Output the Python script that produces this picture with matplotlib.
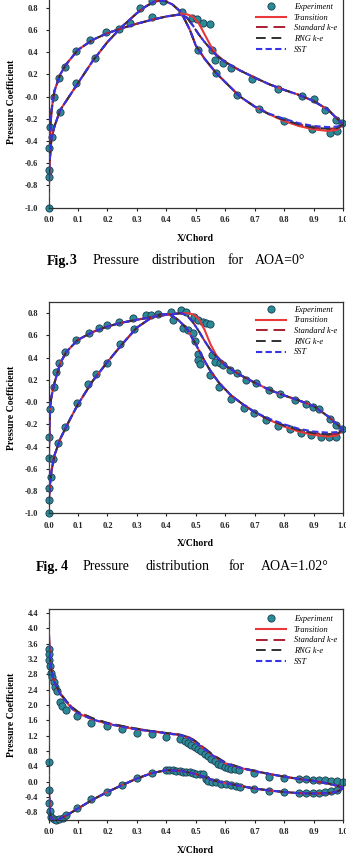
import matplotlib
matplotlib.use('Agg')
import matplotlib.pyplot as plt
import numpy as np

plt.rcParams['font.family'] = ['Liberation Serif', 'DejaVu Serif']

models = ['Transition', 'Standard k-e', 'RNG k-e', 'SST']

# ---- Fig. 3, AOA = 0 ----
ex3_x = [0.0, 0.001, 0.002, 0.003, 0.006, 0.011, 0.018, 0.036, 0.04, 0.055,
         0.093, 0.093, 0.14, 0.157, 0.195, 0.24, 0.276, 0.31, 0.35, 0.35,
         0.39, 0.455, 0.486, 0.503, 0.506, 0.526, 0.548, 0.556, 0.566, 0.57,
         0.593, 0.62, 0.64, 0.69, 0.714, 0.78, 0.80, 0.861, 0.90, 0.896,
         0.94, 0.957, 0.977, 0.98, 0.998]
ex3_y = [-1.0, -0.72, -0.66, -0.46, -0.27, -0.36, 0.0, 0.17, -0.14, 0.27,
         0.41, 0.12, 0.51, 0.35, 0.585, 0.605, 0.66, 0.80, 0.715, 0.86,
         0.86, 0.76, 0.71, 0.70, 0.42, 0.66, 0.655, 0.42, 0.33, 0.21,
         0.30, 0.26, 0.01, 0.16, -0.115, 0.07, -0.22, 0.005, -0.02, -0.29,
         -0.12, -0.325, -0.21, -0.31, -0.24]

f3a_x = [0, 0.002, 0.005, 0.01, 0.02, 0.04, 0.06, 0.1, 0.15, 0.2, 0.25, 0.3, 0.35, 0.4, 0.45,
         0.47, 0.49, 0.51, 0.53, 0.55, 0.57, 0.6, 0.65, 0.7, 0.75, 0.8, 0.85, 0.9, 0.95, 0.98, 1.0]
f3a_tr = [-1.0, -0.6, -0.35, -0.13, 0.05, 0.2, 0.29, 0.42, 0.51, 0.57, 0.615, 0.655, 0.69, 0.72, 0.74,
          0.74, 0.72, 0.66, 0.56, 0.46, 0.38, 0.31, 0.235, 0.17, 0.11, 0.06, 0.015, -0.04, -0.12, -0.2, -0.25]
f3a_ke = [-1.0, -0.6, -0.35, -0.13, 0.05, 0.2, 0.29, 0.42, 0.51, 0.57, 0.615, 0.655, 0.69, 0.72, 0.74,
          0.71, 0.64, 0.56, 0.49, 0.43, 0.37, 0.31, 0.235, 0.17, 0.11, 0.06, 0.015, -0.04, -0.12, -0.2, -0.25]

f3b_x = [0, 0.003, 0.01, 0.02, 0.04, 0.07, 0.1, 0.15, 0.2, 0.25, 0.3, 0.33, 0.36, 0.39, 0.42,
         0.45, 0.48, 0.5, 0.53, 0.57, 0.6, 0.65, 0.7, 0.75, 0.8, 0.85, 0.9, 0.95, 0.98, 1.0]
f3b_tr = [-1.0, -0.62, -0.38, -0.27, -0.12, 0.0, 0.12, 0.32, 0.49, 0.63, 0.75, 0.81, 0.855, 0.865, 0.83,
          0.76, 0.6, 0.46, 0.34, 0.21, 0.13, 0.0, -0.09, -0.16, -0.22, -0.265, -0.295, -0.31, -0.3, -0.25]
f3b_ke = [-1.0, -0.62, -0.38, -0.27, -0.12, 0.0, 0.12, 0.32, 0.49, 0.63, 0.75, 0.81, 0.855, 0.865, 0.83,
          0.76, 0.6, 0.46, 0.34, 0.21, 0.13, 0.0, -0.09, -0.16, -0.21, -0.25, -0.28, -0.29, -0.285, -0.25]
f3b_sst = [-1.0, -0.62, -0.38, -0.27, -0.12, 0.0, 0.12, 0.32, 0.49, 0.63, 0.75, 0.81, 0.855, 0.865, 0.83,
           0.76, 0.6, 0.46, 0.34, 0.21, 0.13, 0.0, -0.09, -0.155, -0.2, -0.24, -0.265, -0.275, -0.27, -0.25]

# ---- Fig. 4, AOA = 1.02 ----
ex4_x = [0.0, 0.0, 0.0, 0.0, 0.0, 0.004, 0.009, 0.015, 0.018, 0.027,
         0.033, 0.036, 0.055, 0.055, 0.093, 0.098, 0.135, 0.138, 0.162, 0.17,
         0.197, 0.197, 0.24, 0.244, 0.287, 0.292, 0.332, 0.347, 0.372, 0.415,
         0.423, 0.451, 0.457, 0.468, 0.474, 0.489, 0.493, 0.499, 0.508, 0.508,
         0.508, 0.516, 0.525, 0.536, 0.547, 0.547, 0.556, 0.564, 0.579, 0.581,
         0.593, 0.615, 0.621, 0.64, 0.664, 0.67, 0.698, 0.704, 0.74, 0.749,
         0.78, 0.787, 0.819, 0.838, 0.858, 0.875, 0.892, 0.898, 0.918, 0.926,
         0.952, 0.955, 0.977, 0.977, 0.998]
ex4_y = [-1.0, -0.88, -0.77, -0.50, -0.31, -0.06, -0.67, -0.51, 0.14, 0.27,
         -0.37, 0.35, 0.45, -0.22, 0.555, -0.01, 0.16, 0.62, 0.255, 0.665,
         0.69, 0.355, 0.72, 0.525, 0.755, 0.66, 0.78, 0.78, 0.795, 0.81,
         0.74, 0.825, 0.67, 0.81, 0.645, 0.62, 0.765, 0.55, 0.74, 0.435,
         0.375, 0.345, 0.72, 0.71, 0.70, 0.24, 0.42, 0.36, 0.135, 0.35,
         0.33, 0.285, 0.03, 0.26, -0.05, 0.20, -0.10, 0.17, -0.165, 0.105,
         -0.215, 0.07, -0.245, 0.02, -0.28, -0.015, -0.30, -0.04, -0.06, -0.31,
         -0.315, -0.15, -0.31, -0.21, -0.24]

f4a_x = [0, 0.002, 0.005, 0.01, 0.02, 0.04, 0.06, 0.1, 0.15, 0.2, 0.25, 0.3, 0.35, 0.4, 0.45,
         0.47, 0.49, 0.51, 0.53, 0.55, 0.57, 0.6, 0.65, 0.7, 0.75, 0.8, 0.85, 0.9, 0.95, 0.98, 1.0]
f4a_tr = [-1.0, -0.4, -0.05, 0.05, 0.17, 0.35, 0.45, 0.56, 0.63, 0.68, 0.715, 0.74, 0.765, 0.785, 0.80,
          0.80, 0.79, 0.75, 0.65, 0.52, 0.42, 0.33, 0.245, 0.175, 0.11, 0.06, 0.015, -0.035, -0.13, -0.2, -0.25]
f4a_ke = [-1.0, -0.4, -0.05, 0.05, 0.17, 0.35, 0.45, 0.56, 0.63, 0.68, 0.715, 0.74, 0.765, 0.785, 0.80,
          0.78, 0.72, 0.64, 0.55, 0.47, 0.41, 0.33, 0.245, 0.175, 0.11, 0.06, 0.015, -0.035, -0.13, -0.2, -0.25]

f4b_x = [0, 0.003, 0.01, 0.02, 0.04, 0.07, 0.1, 0.15, 0.2, 0.25, 0.3, 0.35, 0.38, 0.41, 0.44,
         0.47, 0.5, 0.53, 0.55, 0.58, 0.62, 0.66, 0.7, 0.75, 0.8, 0.85, 0.9, 0.95, 0.98, 1.0]
f4b_tr = [-1.0, -0.8, -0.62, -0.48, -0.33, -0.17, -0.02, 0.19, 0.36, 0.52, 0.67, 0.76, 0.79, 0.79, 0.74,
          0.66, 0.52, 0.37, 0.28, 0.17, 0.06, -0.02, -0.09, -0.16, -0.22, -0.265, -0.295, -0.31, -0.3, -0.25]
f4b_ke = [-1.0, -0.8, -0.62, -0.48, -0.33, -0.17, -0.02, 0.19, 0.36, 0.52, 0.67, 0.76, 0.79, 0.79, 0.74,
          0.66, 0.52, 0.37, 0.28, 0.17, 0.06, -0.02, -0.09, -0.16, -0.21, -0.25, -0.28, -0.29, -0.285, -0.25]
f4b_sst = [-1.0, -0.8, -0.62, -0.48, -0.33, -0.17, -0.02, 0.19, 0.36, 0.52, 0.67, 0.76, 0.79, 0.79, 0.74,
           0.66, 0.52, 0.37, 0.28, 0.17, 0.06, -0.02, -0.09, -0.15, -0.2, -0.24, -0.265, -0.275, -0.27, -0.25]

# ---- Fig. 5 ----
ex5u_x = [0, 0, 0.002, 0.004, 0.007, 0.013, 0.018, 0.021, 0.029, 0.038,
          0.046, 0.061, 0.097, 0.146, 0.197, 0.248, 0.299, 0.35, 0.398, 0.446,
          0.462, 0.474, 0.485, 0.497, 0.508, 0.519, 0.53, 0.542, 0.553, 0.564,
          0.576, 0.587, 0.598, 0.61, 0.621, 0.632, 0.646, 0.697, 0.749, 0.799,
          0.85, 0.875, 0.898, 0.918, 0.94, 0.96, 0.98, 1.0]
ex5u_y = [3.47, 3.34, 3.17, 3.01, 2.84, 2.73, 2.60, 2.47, 2.36, 2.08,
          1.97, 1.88, 1.71, 1.53, 1.45, 1.36, 1.27, 1.23, 1.17, 1.11,
          1.06, 1.02, 0.96, 0.91, 0.85, 0.80, 0.73, 0.67, 0.60, 0.54,
          0.47, 0.43, 0.39, 0.36, 0.34, 0.32, 0.30, 0.22, 0.13, 0.09,
          0.07, 0.06, 0.04, 0.035, 0.03, 0.02, 0.01, 0.0]
ex5l_x = [0, 0, 0.002, 0.004, 0.01, 0.018, 0.027, 0.036, 0.048, 0.061,
          0.097, 0.146, 0.197, 0.248, 0.299, 0.35, 0.398, 0.41, 0.424, 0.434,
          0.446, 0.457, 0.468, 0.48, 0.491, 0.502, 0.514, 0.525, 0.536, 0.542,
          0.555, 0.57, 0.587, 0.604, 0.621, 0.638, 0.65, 0.697, 0.749, 0.799,
          0.85, 0.875, 0.898, 0.918, 0.94, 0.96, 0.98]
ex5l_y = [0.52, -0.22, -0.55, -0.76, -0.91, -0.97, -1.0, -0.98, -0.94, -0.87,
          -0.70, -0.46, -0.26, -0.09, 0.085, 0.23, 0.30, 0.30, 0.30, 0.29,
          0.28, 0.26, 0.25, 0.24, 0.22, 0.20, 0.20, 0.19, 0.08, 0.01,
          -0.01, -0.02, -0.05, -0.07, -0.09, -0.11, -0.13, -0.20, -0.24, -0.28,
          -0.30, -0.30, -0.30, -0.30, -0.28, -0.24, -0.21]

f5u_x = [0, 0.001, 0.003, 0.006, 0.01, 0.015, 0.02, 0.03, 0.04, 0.06, 0.08, 0.1, 0.15, 0.2, 0.25, 0.3,
         0.35, 0.4, 0.45, 0.48, 0.5, 0.53, 0.56, 0.6, 0.65, 0.7, 0.75, 0.8, 0.85, 0.9, 0.95, 1.0]
f5u_tr = [4.6, 4.0, 3.5, 3.15, 2.9, 2.72, 2.6, 2.42, 2.28, 2.08, 1.9, 1.78, 1.62, 1.51, 1.43, 1.36,
          1.31, 1.26, 1.21, 1.13, 1.02, 0.84, 0.67, 0.48, 0.36, 0.27, 0.2, 0.13, 0.07, 0.02, -0.05, -0.15]
f5u_ke = [4.6, 4.0, 3.5, 3.15, 2.9, 2.72, 2.6, 2.44, 2.3, 2.11, 1.94, 1.82, 1.65, 1.53, 1.45, 1.38,
          1.32, 1.27, 1.22, 1.15, 1.05, 0.87, 0.69, 0.5, 0.37, 0.28, 0.2, 0.13, 0.07, 0.02, -0.05, -0.15]

f5l_x = [0, 0.001, 0.004, 0.01, 0.02, 0.03, 0.05, 0.07, 0.1, 0.15, 0.2, 0.25, 0.3, 0.35, 0.4,
         0.45, 0.5, 0.53, 0.56, 0.6, 0.65, 0.7, 0.75, 0.8, 0.85, 0.9, 0.95, 0.98, 1.0]
f5l_tr = [4.6, 0.0, -0.75, -0.95, -1.02, -1.0, -0.93, -0.84, -0.7, -0.47, -0.27, -0.09, 0.08, 0.22, 0.3,
          0.28, 0.2, 0.12, 0.03, -0.04, -0.11, -0.18, -0.23, -0.27, -0.3, -0.31, -0.3, -0.26, -0.18]

W, H = 346, 858

styles = {
    'Transition': dict(color='#e8383a', lw=1.5, ls='-'),
    'Standard k-e': dict(color='#a82030', lw=1.4, ls=(0, (6, 3))),
    'RNG k-e': dict(color='#303030', lw=1.4, ls=(0, (5, 3))),
    'SST': dict(color='#3434e6', lw=1.5, ls=(0, (3, 1.6))),
}


def panel(top_px, bot_px, ylim, yticks):
    ax = plt.gcf().add_axes([48.5 / W, 1 - bot_px / H, 294.5 / W, (bot_px - top_px) / H])
    ax.set_xlim(0, 1.0)
    ax.set_ylim(*ylim)
    ax.set_xticks(np.arange(0, 1.01, 0.1))
    ax.set_xticklabels(['%.1f' % v for v in np.arange(0, 1.01, 0.1)])
    ax.set_yticks(yticks)
    ax.set_yticklabels(['%.1f' % v for v in yticks])
    ax.tick_params(direction='out', length=2.5, width=0.8, labelsize=6, colors='#222222')
    ax.tick_params(axis='y', pad=5)
    ax.tick_params(axis='x', pad=3.5)
    for lab in ax.get_xticklabels() + ax.get_yticklabels():
        lab.set_fontweight('bold')
    for s in ax.spines.values():
        s.set_linewidth(0.9)
        s.set_color('#333333')
    ax.set_xlabel('X/Chord', fontsize=7, fontweight='bold', labelpad=7)
    ax.set_ylabel('Pressure Coefficient', fontsize=7, fontweight='bold', labelpad=6)
    return ax


def draw(ax, ex_x, ex_y, surfaces, legend_y):
    ax.plot(ex_x, ex_y, 'o', ms=5.2, mfc='#2a8a98', mec='#1c3c50', mew=0.6,
            zorder=2, clip_on=False, label='Experiment')
    for k, (sx, curves) in enumerate(surfaces):
        for m in models:
            ax.plot(sx, curves[m], zorder=3, label=m if k == 0 else None, **styles[m])
    leg = ax.legend(loc='upper left', bbox_to_anchor=(0.703, legend_y), frameon=False,
                    borderpad=0, borderaxespad=0, handlelength=3.7, handletextpad=0.9,
                    labelspacing=0.32, prop=dict(family='Liberation Serif', style='italic', size=6))
    return leg


def caption(y_px, words):
    for (x_px, w, bold) in words:
        plt.gcf().text(x_px / W, 1 - y_px / H, w, ha='left', va='center', fontsize=10,
                       fontweight='bold' if bold else 'normal')


def main():
    fig = plt.figure(figsize=(W / 100, H / 100), dpi=100)

    yt34 = np.round(np.arange(-1.0, 0.81, 0.2), 1)
    ax = panel(-3.5, 207.7, (-1.0, 0.9), yt34)
    draw(ax, ex3_x, ex3_y,
         [(f3a_x, {'Transition': f3a_tr, 'Standard k-e': f3a_ke, 'RNG k-e': f3a_ke, 'SST': f3a_ke}),
          (f3b_x, {'Transition': f3b_tr, 'Standard k-e': f3b_ke, 'RNG k-e': f3b_ke, 'SST': f3b_sst})],
         0.969)
    caption(261, [(46.7, 'Fig.', True), (70, '3', True), (93, 'Pressure', False),
                  (151, 'distribution', False), (228, 'for', False), (255, 'AOA=0°', False)])

    ax = panel(302, 513.3, (-1.0, 0.9), yt34)
    draw(ax, ex4_x, ex4_y,
         [(f4a_x, {'Transition': f4a_tr, 'Standard k-e': f4a_ke, 'RNG k-e': f4a_ke, 'SST': f4a_ke}),
          (f4b_x, {'Transition': f4b_tr, 'Standard k-e': f4b_ke, 'RNG k-e': f4b_ke, 'SST': f4b_sst})],
         0.982)
    caption(567, [(35.7, 'Fig.', True), (61, '4', True), (83, 'Pressure', False),
                  (146, 'distribution', False), (229, 'for', False), (261, 'AOA=1.02°', False)])

    yt5 = np.round(np.arange(-0.8, 4.41, 0.4), 1)
    ax = panel(609, 820, (-1.0, 4.5), yt5)
    draw(ax, ex5u_x + ex5l_x, ex5u_y + ex5l_y,
         [(f5u_x, {'Transition': f5u_tr, 'Standard k-e': f5u_ke, 'RNG k-e': f5u_ke, 'SST': f5u_tr}),
          (f5l_x, {'Transition': f5l_tr, 'Standard k-e': f5l_tr, 'RNG k-e': f5l_tr, 'SST': f5l_tr})],
         0.971)

    fig.savefig('out.png', dpi=100)


if __name__ == "__main__":
    main()
